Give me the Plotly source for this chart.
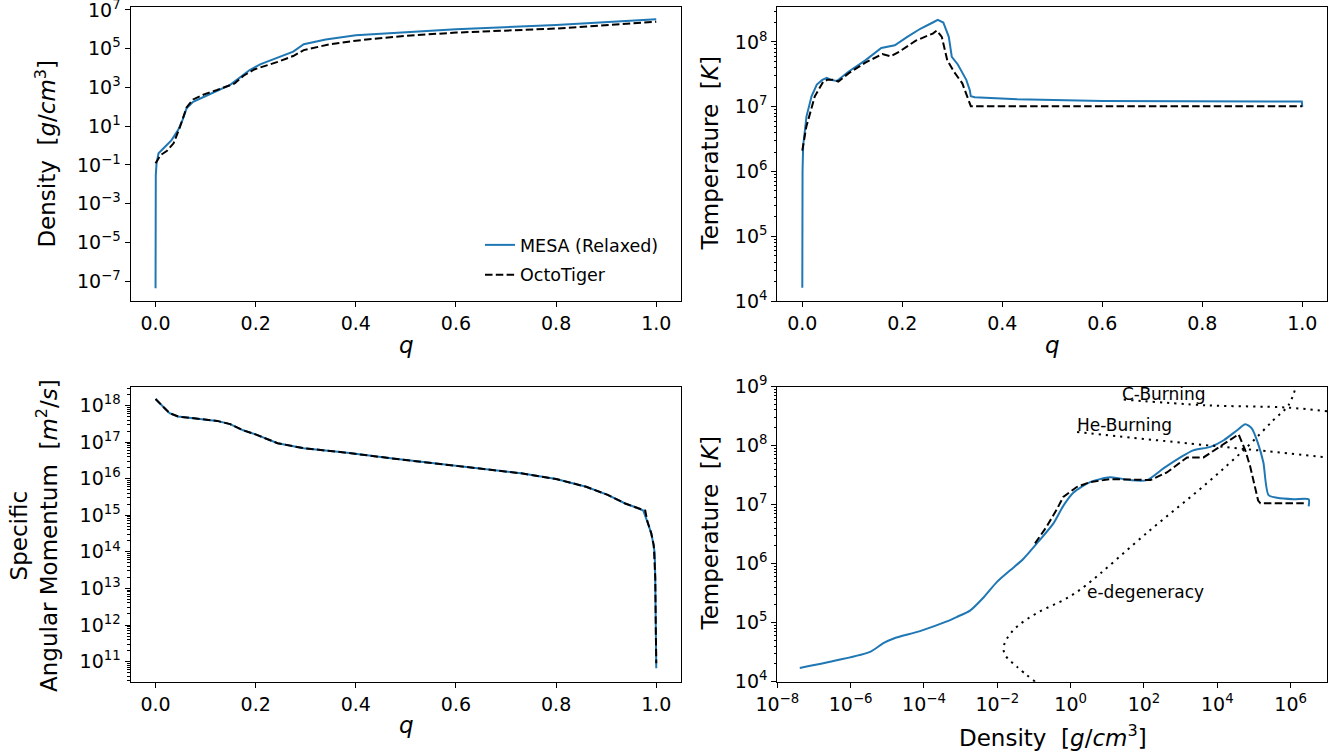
import math
import plotly.graph_objects as go

# ---------------- data ----------------
# Top-left: density vs q
q_rho_mesa = [0.0, 0.0, 0.0005, 0.002, 0.006, 0.019, 0.032, 0.045, 0.054, 0.062, 0.075,
              0.097, 0.123, 0.149, 0.171, 0.188, 0.21, 0.244, 0.275, 0.296, 0.34, 0.40,
              0.496, 0.60, 0.80, 1.0]
rho_mesa = [4.2e-8, 1e-4, 3e-2, 1.2e-1, 4.0e-1, 8.7e-1, 1.9, 6.3, 21, 83, 180,
            330, 680, 1350, 3600, 7900, 1.6e4, 3.5e4, 7.1e4, 1.7e5, 3.0e5, 4.9e5,
            7.2e5, 1.0e6, 1.7e6, 3.3e6]
q_rho_octo = [0.0, 0.01, 0.023, 0.036, 0.049, 0.062, 0.075, 0.097, 0.123, 0.158, 0.175,
              0.197, 0.244, 0.275, 0.296, 0.348, 0.40, 0.496, 0.60, 0.80, 1.0]
rho_octo = [0.12, 0.32, 0.54, 1.3, 9.3, 93, 240, 440, 740, 1600, 3900,
            8500, 2.1e4, 4.2e4, 8.5e4, 1.7e5, 2.6e5, 4.6e5, 6.8e5, 1.1e6, 2.5e6]

# Top-right: temperature vs q
q_T_mesa = [0.0, 0.0, 0.0005, 0.0017, 0.0084, 0.0185, 0.029, 0.040, 0.049, 0.057, 0.069,
            0.093, 0.126, 0.158, 0.173, 0.185, 0.21, 0.236, 0.261, 0.271, 0.282, 0.293,
            0.299, 0.311, 0.328, 0.335, 0.337, 0.345, 0.43, 0.60, 0.999, 1.0]
T_mesa = [1.6e4, 3.2e5, 1.0e6, 2.5e6, 7.1e6, 1.45e7, 2.2e7, 2.6e7, 2.8e7, 2.6e7, 2.5e7,
          3.5e7, 5.2e7, 8.1e7, 8.5e7, 8.9e7, 1.2e8, 1.6e8, 2.0e8, 2.2e8, 2.0e8, 1.2e8,
          5.9e7, 4.5e7, 2.6e7, 1.8e7, 1.45e7, 1.4e7, 1.3e7, 1.23e7, 1.2e7, 1.0e7]
q_T_octo = [0.0, 0.008, 0.025, 0.042, 0.05, 0.063, 0.072, 0.093, 0.126, 0.16, 0.177,
            0.194, 0.227, 0.261, 0.269, 0.279, 0.29, 0.303, 0.32, 0.332, 0.337, 1.0]
T_octo = [2.1e6, 4.9e6, 1.45e7, 2.45e7, 2.6e7, 2.6e7, 2.45e7, 3.3e7, 4.8e7, 6.5e7, 6.0e7,
          7.1e7, 1.05e8, 1.35e8, 1.5e8, 1.2e8, 5.2e7, 3.5e7, 2.3e7, 1.3e7, 1.02e7, 1.02e7]

# Bottom-left: specific angular momentum vs q
q_j_mesa = [0.0, 0.028, 0.045, 0.08, 0.123, 0.149, 0.175, 0.201, 0.244, 0.296, 0.383,
            0.47, 0.556, 0.643, 0.73, 0.80, 0.86, 0.903, 0.938, 0.964, 0.974, 0.981,
            0.99, 0.994, 0.997, 0.998, 0.999, 1.0]
j_mesa = [1.5e18, 6.2e17, 5.0e17, 4.5e17, 3.8e17, 3.1e17, 2.1e17, 1.6e17, 9.3e16, 6.8e16, 5.1e16,
          3.6e16, 2.6e16, 1.95e16, 1.4e16, 9.8e15, 6.0e15, 3.6e15, 2.1e15, 1.55e15, 1.35e15, 7.4e14,
          3.2e14, 1.7e14, 9.1e13, 1.7e13, 1e12, 6.6e10]
q_j_octo = [0.0, 0.028, 0.045, 0.08, 0.123, 0.149, 0.175, 0.201, 0.244, 0.296, 0.383,
            0.47, 0.556, 0.643, 0.73, 0.80, 0.86, 0.903, 0.938, 0.964, 0.978, 0.982,
            0.99, 0.995, 0.998, 0.999, 1.0]
j_octo = [1.5e18, 6.2e17, 5.0e17, 4.5e17, 3.8e17, 3.1e17, 2.1e17, 1.6e17, 9.3e16, 6.8e16, 5.1e16,
          3.6e16, 2.6e16, 1.95e16, 1.4e16, 9.8e15, 6.0e15, 3.6e15, 2.1e15, 1.55e15, 1.35e15, 7.0e14,
          3.2e14, 1.5e14, 2e13, 1e12, 9e10]

# Bottom-right: temperature vs density
rho_TR_mesa = [4.1e-8, 4.2e-7, 3.4e-6, 7.8e-6, 1.5e-5, 7.8e-5, 4.2e-4, 8.1e-4, 1.8e-3, 4.4e-3,
               9.8e-3, 2.3e-2, 5.1e-2, 0.12, 0.34, 0.63, 1.2, 3.4, 12, 42, 120, 340, 980, 2200,
               6500, 1.5e4, 3.4e4, 5.8e4, 8.7e4, 1.3e5, 1.8e5, 2.5e5, 4.3e5, 1.2e6, 3.1e6, 3.1e6]
T_TR_mesa = [1.7e4, 2.3e4, 3.2e4, 4.5e4, 5.4e4, 7.2e4, 1.05e5, 1.26e5, 1.6e5, 2.75e5,
             4.9e5, 7.8e5, 1.2e6, 2.2e6, 4.8e6, 9.5e6, 1.6e7, 2.4e7, 2.9e7, 2.6e7, 2.6e7, 4.1e7,
             6.3e7, 8.3e7, 9.5e7, 1.23e8, 1.8e8, 2.3e8, 1.95e8, 1.07e8, 5.2e7, 1.45e7, 1.3e7,
             1.23e7, 1.23e7, 9.3e6]
rho_TR_octo = [0.107, 0.22, 0.42, 0.63, 1.5, 3.4, 12, 65, 150, 420, 1500, 4200, 9800,
               2.2e4, 3.8e4, 5.8e4, 7.9e4, 1.3e5, 1.5e5, 2.8e6]
T_TR_octo = [2.2e6, 4.2e6, 8.3e6, 1.35e7, 2.0e7, 2.4e7, 2.7e7, 2.6e7, 2.6e7, 3.5e7, 6.3e7,
             6.3e7, 8.9e7, 1.23e8, 1.55e8, 8.3e7, 4.4e7, 1.17e7, 1.05e7, 1.05e7]

# Reference boundaries
rho_C_burn = [28, 5200, 7.9e5, 1e7]
T_C_burn = [6.0e8, 4.8e8, 4.4e8, 3.8e8]
rho_He_burn = [1.5, 650, 4.2e4, 1e7]
T_He_burn = [1.7e8, 1.15e8, 8.9e7, 6.3e7]
rho_edeg = [0.107, 0.034, 0.0166, 0.0148, 0.0178, 0.034, 0.12, 0.79, 2.5, 148, 5200,
            6.5e4, 3.4e5, 8.7e5, 1.4e6]
T_edeg = [1e4, 1.8e4, 2.8e4, 3.7e4, 5.2e4, 8.5e4, 1.45e5, 2.6e5, 4.2e5, 3.7e6, 2.3e7,
          9.5e7, 2.7e8, 4.8e8, 1e9]

region_labels = ["C-Burning", "He-Burning", "e-degeneracy"]
region_label_rho = [22, 1.32, 2.45]
region_label_T = [7.4e8, 2.2e8, 3.3e5]

series_names = ["MESA (Relaxed)", "OctoTiger"]

q_ticks = [0.0, 0.2, 0.4, 0.6, 0.8, 1.0]
q_ticktext = ["0.0", "0.2", "0.4", "0.6", "0.8", "1.0"]
rho_exps = [-7, -5, -3, -1, 1, 3, 5, 7]
T_exps = [4, 5, 6, 7, 8]
j_exps = [11, 12, 13, 14, 15, 16, 17, 18]
dens_exps = [-8, -6, -4, -2, 0, 2, 4, 6]
T2_exps = [4, 5, 6, 7, 8, 9]

# ---------------- styling ----------------
W, H = 1340, 755
FONT = "DejaVu Sans"
BLUE = "#1f77b4"
TICK_SIZE = 19
LABEL_SIZE = 23


def pow_label(e):
    s = str(e).replace("-", "\u2212")
    return "10<sup>" + s + "</sup>"


def minor_vals(lo, hi):
    return [m * 10.0 ** e for e in range(lo, hi) for m in range(2, 10)]


def px(x):
    return x / W


def py(y):
    return 1 - y / H


common_axis = dict(showline=True, linecolor="black", linewidth=1, mirror=True,
                   ticks="outside", ticklen=5, tickwidth=1, tickcolor="black",
                   showgrid=False, zeroline=False, automargin=False,
                   ticklabeloverflow="allow",
                   tickfont=dict(family=FONT, size=TICK_SIZE, color="black"))

XL = [px(130.5), px(681.3)]
XR = [px(777.3), px(1327.3)]
YT = [py(301), py(6.7)]
YB = [py(681.7), py(386.5)]

solid = dict(color=BLUE, width=2)
dashed = dict(color="black", width=2, dash="7.5px,3.3px")
dotted = dict(color="black", width=2, dash="2.2px,5px")

fig = go.Figure()
# top-left
fig.add_trace(go.Scatter(x=q_rho_mesa, y=rho_mesa, mode="lines", line=solid,
                         name=series_names[0], legendgroup="a", xaxis="x", yaxis="y"))
fig.add_trace(go.Scatter(x=q_rho_octo, y=rho_octo, mode="lines", line=dashed,
                         name=series_names[1], legendgroup="b", xaxis="x", yaxis="y"))
# top-right
fig.add_trace(go.Scatter(x=q_T_mesa, y=T_mesa, mode="lines", line=solid,
                         showlegend=False, xaxis="x2", yaxis="y2"))
fig.add_trace(go.Scatter(x=q_T_octo, y=T_octo, mode="lines", line=dashed,
                         showlegend=False, xaxis="x2", yaxis="y2"))
# bottom-left
fig.add_trace(go.Scatter(x=q_j_mesa, y=j_mesa, mode="lines", line=solid,
                         showlegend=False, xaxis="x3", yaxis="y3"))
fig.add_trace(go.Scatter(x=q_j_octo, y=j_octo, mode="lines", line=dashed,
                         showlegend=False, xaxis="x3", yaxis="y3"))
# bottom-right
fig.add_trace(go.Scatter(x=rho_TR_mesa, y=T_TR_mesa, mode="lines",
                         line=dict(solid, shape="spline", smoothing=0.7),
                         showlegend=False, xaxis="x4", yaxis="y4"))
fig.add_trace(go.Scatter(x=rho_TR_octo, y=T_TR_octo, mode="lines", line=dashed,
                         showlegend=False, xaxis="x4", yaxis="y4"))
for xs, ys in [(rho_C_burn, T_C_burn), (rho_He_burn, T_He_burn), (rho_edeg, T_edeg)]:
    fig.add_trace(go.Scatter(x=xs, y=ys, mode="lines", line=dotted, line_shape="spline",
                             showlegend=False, xaxis="x4", yaxis="y4"))

q_axis = dict(common_axis, range=[-0.05, 1.05], tickvals=q_ticks, ticktext=q_ticktext)
minor_style = dict(ticks="outside", ticklen=2.5, tickcolor="black", tickwidth=0.8, showgrid=False)

fig.update_layout(
    width=W, height=H,
    margin=dict(l=0, r=0, t=0, b=0, autoexpand=False),
    paper_bgcolor="white", plot_bgcolor="white",
    font=dict(family=FONT, color="black"),
    xaxis=dict(q_axis, domain=XL, anchor="y"),
    yaxis=dict(common_axis, type="log", domain=YT, anchor="x", range=[-8.03, 7.17],
               tickvals=[10.0 ** e for e in rho_exps],
               ticktext=[pow_label(e) for e in rho_exps]),
    xaxis2=dict(q_axis, domain=XR, anchor="y2"),
    yaxis2=dict(common_axis, type="log", domain=YT, anchor="x2", range=[4, 8.545],
                tickvals=[10.0 ** e for e in T_exps],
                ticktext=[pow_label(e) for e in T_exps],
                minor=dict(minor_style, tickvals=minor_vals(4, 9))),
    xaxis3=dict(q_axis, domain=XL, anchor="y3"),
    yaxis3=dict(common_axis, type="log", domain=YB, anchor="x3", range=[10.45, 18.52],
                tickvals=[10.0 ** e for e in j_exps],
                ticktext=[pow_label(e) for e in j_exps],
                minor=dict(minor_style, tickvals=minor_vals(10, 19))),
    xaxis4=dict(common_axis, type="log", domain=XR, anchor="y4", range=[-8, 7],
                tickvals=[10.0 ** e for e in dens_exps],
                ticktext=[pow_label(e) for e in dens_exps]),
    yaxis4=dict(common_axis, type="log", domain=YB, anchor="x4", range=[4, 9],
                tickvals=[10.0 ** e for e in T2_exps],
                ticktext=[pow_label(e) for e in T2_exps],
                minor=dict(minor_style, tickvals=minor_vals(4, 9))),
    legend=dict(x=px(480), y=py(227), xanchor="left", yanchor="top",
                bgcolor="rgba(0,0,0,0)", borderwidth=0, tracegroupgap=4,
                font=dict(family=FONT, size=17.5, color="black")),
)

label_font = dict(family=FONT, size=LABEL_SIZE, color="black")
axis_titles = [
    ("Density  [<i>g</i>/<i>cm</i><sup>3</sup>]", px(45.6), py(154), -90),
    ("Temperature  [<i>K</i>]", px(709.5), py(154), -90),
    ("Specific<br>Angular Momentum  [<i>m</i><sup>2</sup>/<i>s</i>]", px(34), py(536), -90),
    ("Temperature  [<i>K</i>]", px(709.5), py(534), -90),
    ("<i>q</i>", px(406), py(345), 0),
    ("<i>q</i>", px(1052.3), py(345), 0),
    ("<i>q</i>", px(406), py(725), 0),
    ("Density  [<i>g</i>/<i>cm</i><sup>3</sup>]", px(1053), py(736), 0),
]
for text, x, y, ang in axis_titles:
    fig.add_annotation(text=text, x=x, y=y, xref="paper", yref="paper",
                       xanchor="center", yanchor="middle", textangle=ang,
                       showarrow=False, font=label_font)

for text, r, t in zip(region_labels, region_label_rho, region_label_T):
    fig.add_annotation(text=text, x=math.log10(r), y=math.log10(t), xref="x4", yref="y4",
                       xanchor="left", yanchor="middle", showarrow=False,
                       font=dict(family=FONT, size=17, color="black"))

fig.write_html("out.html", config={"displayModeBar": False},
               post_script="document.body.style.margin='0px';document.body.style.overflow='hidden';")
